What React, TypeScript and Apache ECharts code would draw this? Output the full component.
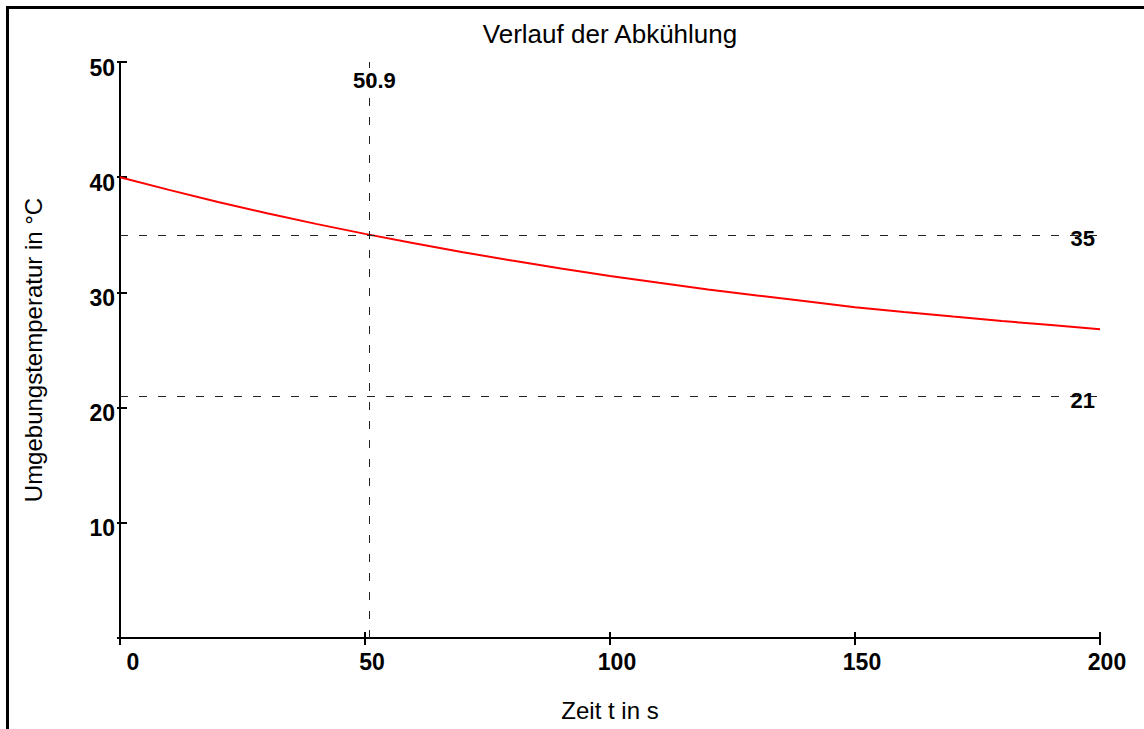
import React, { useEffect, useRef } from "react";
import * as echarts from "echarts";

const titleText = "Verlauf der Abkühlung";
const xAxisName = "Zeit t in s";
const yAxisName = "Umgebungstemperatur in °C";

const times = [0, 10, 20, 30, 40, 50, 60, 70, 80, 90, 100, 110, 120, 130, 140, 150, 160, 170, 180, 190, 200];
const temps = [40.0, 38.9, 37.85, 36.87, 35.95, 35.08, 34.26, 33.49, 32.76, 32.08, 31.43, 30.83, 30.26, 29.73, 29.23, 28.72, 28.3, 27.9, 27.52, 27.16, 26.8];

const hLines = [35, 21];
const vLine = 50.9;

const xRange = [0, 200];
const xStep = 50;
const yRange = [0, 50];
const yStep = 10;

const FONT = "'Liberation Sans', Arial, sans-serif";

export default function App() {
  const ref = useRef<HTMLDivElement>(null);

  useEffect(() => {
    if (!ref.current) return;
    const chart = echarts.init(ref.current, undefined, { renderer: "svg" });
    const lineData = times.map((t, i) => [t, temps[i]]);
    const dash = { type: [8, 11] as any, color: "#222", width: 1 };
    const refLabel = {
      fontFamily: FONT,
      fontSize: 22,
      fontWeight: "bold",
      color: "#000",
      opacity: 1,
    };

    chart.setOption({
      animation: false,
      backgroundColor: "#fff",
      textStyle: { fontFamily: FONT },
      title: {
        text: titleText,
        left: 605,
        top: 16,
        textAlign: "center",
        textStyle: { fontFamily: FONT, fontSize: 26, fontWeight: "normal", color: "#000" },
      },
      graphic: [
        {
          type: "rect",
          shape: { x: 7.5, y: 7.5, width: 1300, height: 900 },
          style: { fill: "none", stroke: "#000", lineWidth: 3 },
          silent: true,
        },
      ],
      grid: { left: 120, right: 44, top: 62, bottom: 91, containLabel: false },
      xAxis: [
        {
          type: "value",
          min: xRange[0],
          max: xRange[1],
          interval: xStep,
          name: xAxisName,
          nameLocation: "middle",
          nameGap: 60,
          nameTextStyle: { fontFamily: FONT, fontSize: 24, color: "#000" },
          axisLine: { show: true, onZero: false, lineStyle: { color: "#000", width: 2 } },
          axisTick: { show: true, inside: false, length: 7, lineStyle: { color: "#000", width: 2 } },
          axisLabel: {
            fontFamily: FONT,
            fontSize: 23,
            fontWeight: "bold",
            color: "#000",
            margin: 12,
            padding: [0, 0, 0, 14],
            formatter: (v: number) => (v === 0 ? "{z|0}" : String(v)),
            rich: {
              z: { fontFamily: FONT, fontSize: 23, fontWeight: "bold", color: "#000", padding: [0, 0, 0, 12] },
            },
          },
          splitLine: { show: false },
        },
        {
          type: "value",
          min: xRange[0],
          max: xRange[1],
          interval: xStep,
          position: "bottom",
          axisLine: { show: false },
          axisTick: { show: true, inside: true, length: 6, lineStyle: { color: "#000", width: 2 } },
          axisLabel: { show: false },
          splitLine: { show: false },
        },
      ],
      yAxis: [
        {
          type: "value",
          min: yRange[0],
          max: yRange[1],
          interval: yStep,
          name: yAxisName,
          nameLocation: "middle",
          nameGap: 75,
          nameRotate: 90,
          nameTextStyle: { fontFamily: FONT, fontSize: 24, color: "#000" },
          axisLine: { show: true, onZero: false, lineStyle: { color: "#000", width: 2 } },
          axisTick: { show: true, inside: true, length: 7, lineStyle: { color: "#000", width: 2 } },
          axisLabel: {
            fontFamily: FONT,
            fontSize: 23,
            fontWeight: "bold",
            color: "#000",
            margin: 5,
            verticalAlign: "top",
            lineHeight: 11,
            formatter: (v: number) => (v === 0 ? "" : String(v)),
          },
          splitLine: { show: false },
        },
        {
          type: "value",
          min: yRange[0],
          max: yRange[1],
          interval: yStep,
          position: "left",
          axisLine: { show: false },
          axisTick: { show: true, inside: false, length: 3, lineStyle: { color: "#000", width: 2 } },
          axisLabel: { show: false },
          splitLine: { show: false },
        },
      ],
      series: [
        {
          type: "line",
          data: lineData,
          showSymbol: false,
          smooth: false,
          lineStyle: { color: "#ff0000", width: 2 },
          itemStyle: { color: "#ff0000" },
          z: 3,
          markLine: {
            silent: true,
            symbol: "none",
            label: { show: false },
            lineStyle: dash,
            data: [...hLines.map((v) => ({ yAxis: v })), { xAxis: vLine }],
          },
        },
        {
          type: "scatter",
          symbolSize: 0,
          itemStyle: { opacity: 1 },
          data: hLines.map((v) => [xRange[1], v]),
          label: {
            show: true,
            position: "left",
            distance: 5,
            offset: [0, 4],
            ...refLabel,
            formatter: (p: any) => String(p.value[1]),
          },
          z: 5,
        },
        {
          type: "scatter",
          symbolSize: 0,
          itemStyle: { opacity: 1 },
          data: [[vLine, yRange[1]]],
          label: {
            show: true,
            position: "bottom",
            distance: 7,
            offset: [5, 0],
            ...refLabel,
            formatter: (p: any) => String(p.value[0]),
          },
          z: 5,
        },
      ],
    });

    return () => chart.dispose();
  }, []);

  return (
    <div
      ref={ref}
      style={{ position: "fixed", left: 0, top: 0, width: 1144, height: 729 }}
    />
  );
}
